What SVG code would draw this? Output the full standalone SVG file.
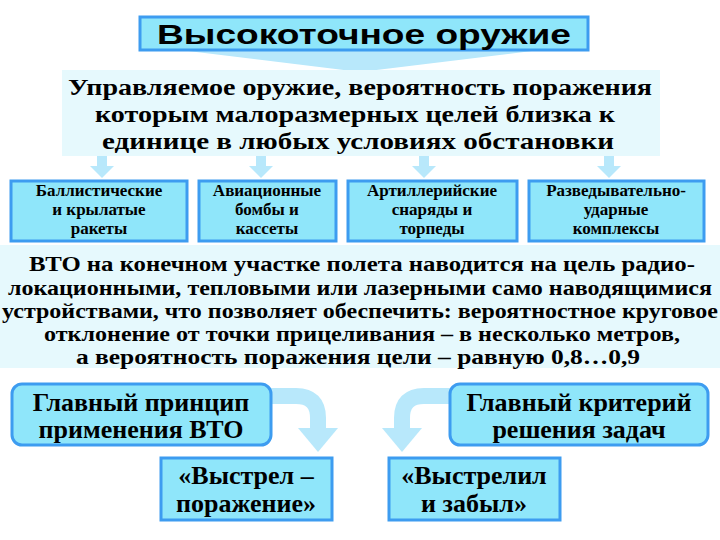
<svg xmlns="http://www.w3.org/2000/svg" width="720" height="540" viewBox="0 0 720 540">
<style>
.b{fill:#8fe6fa;stroke:#3d9cf0;stroke-width:3}
.t{font-family:"Liberation Serif","DejaVu Serif","Times New Roman",serif;font-weight:bold;fill:#000;text-anchor:middle}
.s{font-size:17px}
.m{font-size:26px}
.a{fill:#b8e8fb}
</style>
<rect width="720" height="540" fill="#fff"/>
<g id="title">
<polygon class="a" points="180,50 540,50 360,72"/>
<rect class="b" x="140" y="17" width="448" height="33"/>
<text x="364" y="44" style="font-family:'Liberation Sans',sans-serif;font-weight:bold;font-size:28px;text-anchor:middle" textLength="414" lengthAdjust="spacingAndGlyphs">Высокоточное  оружие</text>
</g>
<g id="definition">
<rect x="62" y="70" width="598" height="86" fill="#e6f9fd"/>
<text class="t" x="360" y="95" style="font-size:24px" textLength="584" lengthAdjust="spacingAndGlyphs">Управляемое оружие, вероятность поражения</text>
<text class="t" x="355" y="122" style="font-size:24px" textLength="520" lengthAdjust="spacingAndGlyphs">которым малоразмерных целей близка к</text>
<text class="t" x="358" y="149" style="font-size:24px" textLength="512" lengthAdjust="spacingAndGlyphs">единице в любых условиях обстановки</text>
</g>
<g id="connectors">
<g class="a">
<rect x="97" y="156" width="10" height="12"/><polygon points="90,166 114,166 102,178"/>
<rect x="256" y="156" width="10" height="12"/><polygon points="249,166 273,166 261,178"/>
<rect x="419" y="156" width="10" height="12"/><polygon points="412,166 436,166 424,178"/>
<rect x="604" y="156" width="10" height="12"/><polygon points="597,166 621,166 609,178"/>
</g>
<path d="M270,396 H296 Q318,396 318,418 V432" fill="none" stroke="#b8e8fb" stroke-width="16"/>
<polygon class="a" points="298,428 338,428 318,452"/>
<path d="M450,396 H424 Q402,396 402,418 V432" fill="none" stroke="#b8e8fb" stroke-width="16"/>
<polygon class="a" points="382,428 422,428 402,452"/>
</g>
<g id="n1"><rect class="b" x="11" y="181" width="176" height="60"/>
<text class="t s" x="99" y="196">Баллистические</text><text class="t s" x="99" y="215">и крылатые</text><text class="t s" x="99" y="234">ракеты</text></g>
<g id="n2"><rect class="b" x="199" y="181" width="137" height="60"/>
<text class="t s" x="267" y="196">Авиационные</text><text class="t s" x="267" y="215">бомбы и</text><text class="t s" x="267" y="234">кассеты</text></g>
<g id="n3"><rect class="b" x="348" y="181" width="169" height="60"/>
<text class="t s" x="432" y="196">Артиллерийские</text><text class="t s" x="432" y="215">снаряды и</text><text class="t s" x="432" y="234">торпеды</text></g>
<g id="n4"><rect class="b" x="529" y="181" width="175" height="60"/>
<text class="t s" x="616" y="196">Разведывательно-</text><text class="t s" x="616" y="215">ударные</text><text class="t s" x="616" y="234">комплексы</text></g>
<g id="para">
<rect x="0" y="245" width="720" height="123" fill="#e6f9fd"/>
<g class="t" style="font-size:20px">
<text x="362" y="271" textLength="666" lengthAdjust="spacingAndGlyphs">ВТО на конечном участке полета наводится на цель радио-</text>
<text x="360" y="295" textLength="704" lengthAdjust="spacingAndGlyphs">локационными, тепловыми или лазерными само наводящимися</text>
<text x="360" y="318" textLength="716" lengthAdjust="spacingAndGlyphs">устройствами, что позволяет обеспечить: вероятностное круговое</text>
<text x="362" y="341" textLength="636" lengthAdjust="spacingAndGlyphs">отклонение от точки прицеливания – в несколько метров,</text>
<text x="358" y="364" textLength="564" lengthAdjust="spacingAndGlyphs">а вероятность поражения цели – равную 0,8…0,9</text>
</g>
</g>
<g id="b1"><rect class="b" x="12" y="384" width="259" height="61" rx="10"/>
<text class="t m" x="141" y="411">Главный принцип</text><text class="t m" x="141" y="438">применения ВТО</text></g>
<g id="b2"><rect class="b" x="450" y="384" width="258" height="61" rx="10"/>
<text class="t m" x="579" y="411">Главный критерий</text><text class="t m" x="579" y="438">решения задач</text></g>
<g id="b3"><rect class="b" x="161" y="458" width="171" height="62"/>
<text class="t m" x="246" y="484">«Выстрел –</text><text class="t m" x="246" y="512">поражение»</text></g>
<g id="b4"><rect class="b" x="389" y="458" width="171" height="62"/>
<text class="t m" x="474" y="484">«Выстрелил</text><text class="t m" x="474" y="512">и забыл»</text></g>
</svg>
